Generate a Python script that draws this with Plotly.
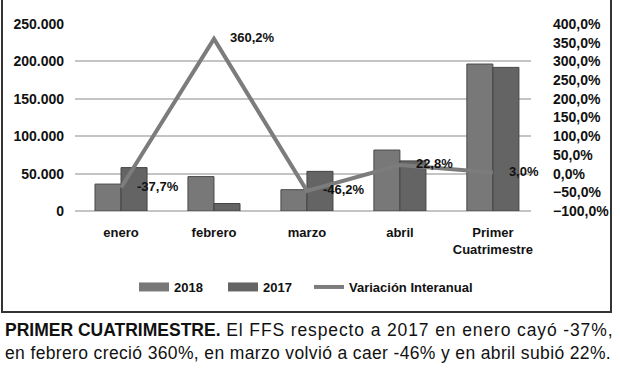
import plotly.graph_objects as go

categories = ["enero", "febrero", "marzo", "abril", "Primer<br>Cuatrimestre"]
values_2018 = [36000, 46000, 28500, 81500, 196500]
values_2017 = [58000, 10000, 53000, 67000, 192000]
variacion = [-37.7, 360.2, -46.2, 22.8, 3.0]
variacion_labels = ["-37,7%", "360,2%", "-46,2%", "22,8%", "3,0%"]

FONT = "Liberation Sans, Arial, sans-serif"
C2018 = "#787878"
C2017 = "#646464"
CLINE = "#7c7c7c"

# plot area: x 75..531, y 24..211
L, R, T, B = 75, 531, 24, 211
W, H = R - L, B - T


def px(x):
    return (x - L) / W


def py(y):
    return (B - y) / H


fig = go.Figure()
fig.add_trace(go.Bar(x=categories, y=values_2018, name="2018", showlegend=False,
                     marker=dict(color=C2018, line=dict(color="#4a4a4a", width=1))))
fig.add_trace(go.Bar(x=categories, y=values_2017, name="2017", showlegend=False,
                     marker=dict(color=C2017, line=dict(color="#444444", width=1))))
# legend swatches for the bars (wide rectangles like the original)
fig.add_trace(go.Scatter(x=[None], y=[None], mode="lines", name="2018", legend="legend",
                         line=dict(color=C2018, width=9)))
fig.add_trace(go.Scatter(x=[None], y=[None], mode="lines", name="2017", legend="legend2",
                         line=dict(color=C2017, width=9)))
fig.add_trace(go.Scatter(x=categories, y=variacion, name="Variación Interanual", yaxis="y2",
                         legend="legend3",
                         mode="lines+markers+text", text=variacion_labels, textposition="middle right",
                         cliponaxis=False,
                         marker=dict(size=24, color="rgba(0,0,0,0)"),
                         textfont=dict(size=13, color="#111111", family=FONT, weight="bold"),
                         line=dict(color=CLINE, width=4)))

legend_common = dict(orientation="h", xanchor="left", y=py(287), yanchor="middle",
                     font=dict(size=13, family=FONT, weight="bold"), itemwidth=30,
                     bgcolor="rgba(0,0,0,0)")

fig.update_layout(
    width=620, height=380,
    margin=dict(l=L, r=620 - R, t=T, b=380 - B, autoexpand=False),
    paper_bgcolor="white", plot_bgcolor="white",
    separators=",.",
    barmode="group", bargap=0.44, bargroupgap=0,
    font=dict(family=FONT, size=13, color="#111111", weight="bold"),
    showlegend=True,
    legend=dict(x=px(134), **legend_common),
    legend2=dict(x=px(223), **legend_common),
    legend3=dict(x=px(309), **legend_common),
    xaxis=dict(showgrid=False, showline=False, ticks="", automargin=False,
               range=[-0.495, 4.41], ticklabelstandoff=12,
               tickfont=dict(size=13, weight="bold")),
    yaxis=dict(range=[0, 250000], dtick=50000, tickformat=",d", showgrid=True,
               gridcolor="#c4c4c4", gridwidth=2, zeroline=True, zerolinecolor="#c4c4c4",
               zerolinewidth=2, tickfont=dict(size=14, weight="bold"), ticks="",
               automargin=False, ticklabelstandoff=10),
    yaxis2=dict(range=[-100, 400], dtick=50, tickformat=".1f", ticksuffix="%",
                overlaying="y", side="right", showgrid=False, zeroline=False,
                automargin=False, ticklabelstandoff=21,
                tickfont=dict(size=14, weight="bold")),
)

fig.add_shape(type="rect", xref="paper", yref="paper",
              x0=px(2), x1=px(611), y0=py(312), y1=py(-3),
              line=dict(color="#333333", width=2), fillcolor="rgba(0,0,0,0)")

fig.add_annotation(xref="paper", yref="paper", x=px(3), y=py(330), xanchor="left", yanchor="middle",
                   showarrow=False, align="left",
                   text="<b>PRIMER CUATRIMESTRE.</b><span style=\"letter-spacing:0.88px\"> El FFS respecto a 2017 en enero cayó -37%,</span>",
                   font=dict(size=17.5, family=FONT, color="#111111", weight="normal"))
fig.add_annotation(xref="paper", yref="paper", x=px(3), y=py(353), xanchor="left", yanchor="middle",
                   showarrow=False, align="left",
                   text="<span style=\"letter-spacing:0.36px\">en febrero creció 360%, en marzo volvió a caer -46% y en abril subió 22%.</span>",
                   font=dict(size=17.5, family=FONT, color="#111111", weight="normal"))

fig.write_html("out.html", config={"displayModeBar": False},
               post_script="document.body.style.margin='0';")
